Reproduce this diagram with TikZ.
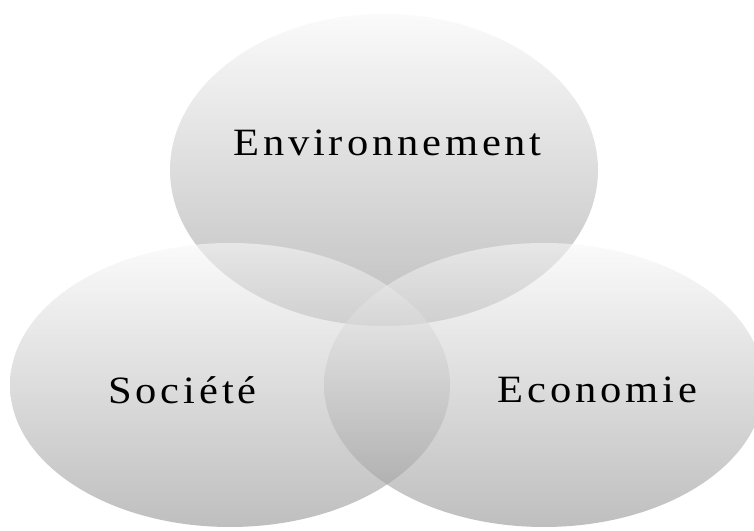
\documentclass[tikz,border=0pt]{standalone}
\usepackage{fontspec}
\newfontfamily\themefont[FakeStretch=1.1,LetterSpace=10]{Liberation Serif}
\tikzset{
  sphere/.style={top color=black!3, bottom color=black!42, fill opacity=0.6},
  theme/.style={font=\themefont\fontsize{22}{26}\selectfont, inner sep=0pt}
}
\begin{document}
\begin{tikzpicture}[scale=0.5]

\useasboundingbox (0,0) rectangle (30.16,21.2);
\clip (0,0) rectangle (30.16,21.2);

\coordinate (E) at (15.36,14.4);
\coordinate (S) at (9.2,5.8);
\coordinate (C) at (21.76,5.8);

\shade[sphere] (E) ellipse [x radius=8.56, y radius=6.24];
\shade[sphere] (S) ellipse [x radius=8.8, y radius=5.68];
\shade[sphere] (C) ellipse [x radius=8.8, y radius=5.68];

\node[theme] (env) at (15.5,15.5) {Environnement};
\node[theme] (soc) at (7.3,5.6) {Société};
\node[theme] (eco) at (23.9,5.6) {Economie};

\end{tikzpicture}
\end{document}
